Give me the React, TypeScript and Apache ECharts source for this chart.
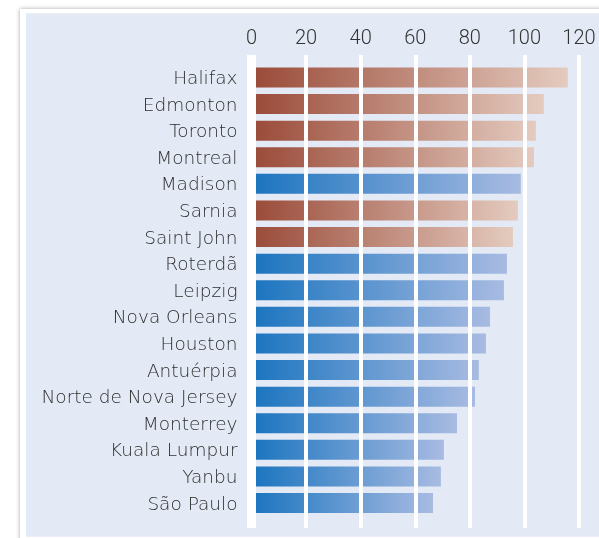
import React, { useEffect, useRef } from "react";
import * as echarts from "echarts";

const categories = [
  "Halifax", "Edmonton", "Toronto", "Montreal", "Madison", "Sarnia", "Saint John",
  "Roterdã", "Leipzig", "Nova Orleans", "Houston", "Antuérpia", "Norte de Nova Jersey",
  "Monterrey", "Kuala Lumpur", "Yanbu", "São Paulo",
];
const values = [115.9, 107.1, 104.2, 103.5, 98.7, 97.6, 95.8, 93.6, 92.5, 87.4, 85.9, 83.3, 81.9, 75.3, 70.5, 69.4, 66.5];
const groups = ["ca", "ca", "ca", "ca", "x", "ca", "ca", "x", "x", "x", "x", "x", "x", "x", "x", "x", "x"];
const tickMin = 0;
const tickMax = 120;
const tickStep = 20;

const brown = ["#9a4a38", "#e4cbbf"];
const blue = ["#1a74bf", "#a8bbe2"];

export default function App() {
  const ref = useRef<HTMLDivElement>(null);
  useEffect(() => {
    if (!ref.current) return;
    const chart = echarts.init(ref.current, null, { renderer: "svg" });
    const data = values.map((v, i) => {
      const c = groups[i] === "ca" ? brown : blue;
      return {
        value: v,
        itemStyle: {
          color: new echarts.graphic.LinearGradient(0, 0, 1, 0, [
            { offset: 0, color: c[0] },
            { offset: 1, color: c[1] },
          ]),
        },
      };
    });
    chart.setOption({
      animation: false,
      graphic: [
        {
          type: "rect",
          shape: { x: 20, y: 9, width: 640, height: 560 },
          style: { fill: "#ffffff", shadowBlur: 4, shadowColor: "rgba(0,0,0,0.35)" },
          z: -10,
        },
        {
          type: "rect",
          shape: { x: 26, y: 13.3, width: 640, height: 523.4 },
          style: { fill: "#e3e9f5" },
          z: -9,
        },
      ],
      grid: [
        { left: 251.5, right: 20, top: 55, bottom: 10 },
        { left: 251.5, right: 20, top: 64.2, bottom: 21.7 },
      ],
      xAxis: [
        {
          gridIndex: 0,
          type: "value",
          position: "top",
          min: tickMin,
          max: tickMax,
          interval: tickStep,
          z: 5,
          axisLine: { show: false },
          axisTick: { show: false },
          axisLabel: {
            margin: 8,
            fontSize: 20,
            fontFamily: "Roboto",
            fontWeight: 300,
            color: "#333333",
          },
          splitLine: { show: true, lineStyle: { color: "#ffffff", width: 4, cap: "butt" } },
        },
        {
          gridIndex: 1,
          type: "value",
          min: tickMin,
          max: tickMax,
          show: false,
        },
      ],
      yAxis: [
        {
          gridIndex: 0,
          type: "value",
          z: 6,
          axisLine: { show: true, symbol: "none", lineStyle: { color: "#ffffff", width: 9, cap: "butt" } },
          axisTick: { show: false },
          axisLabel: { show: false },
          splitLine: { show: false },
        },
        {
          gridIndex: 1,
          type: "category",
          data: categories,
          inverse: true,
          axisLine: { show: false },
          axisTick: { show: false },
          axisLabel: {
            margin: 14,
            fontSize: 18.5,
            fontFamily: "DejaVu Sans",
            fontWeight: 300,
            color: "#2e2e2e",
          },
        },
      ],
      series: [
        {
          type: "bar",
          xAxisIndex: 1,
          yAxisIndex: 1,
          data,
          barWidth: 20,
        },
      ],
    });
    return () => chart.dispose();
  }, []);
  return (
    <div
      ref={ref}
      style={{ position: "fixed", left: 0, top: 0, width: 599, height: 538 }}
    />
  );
}
